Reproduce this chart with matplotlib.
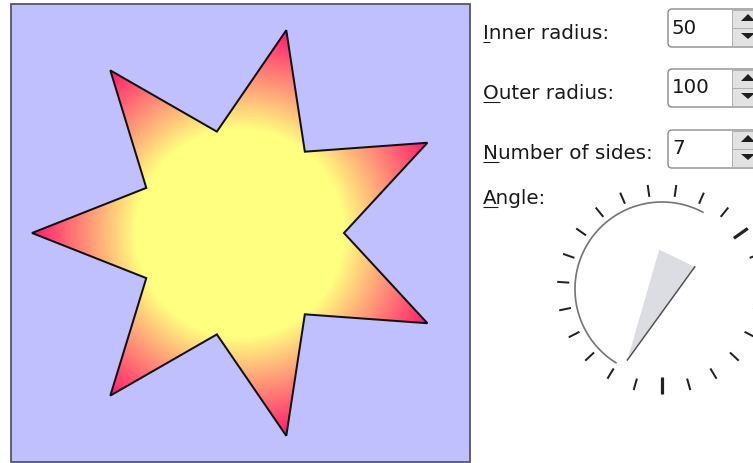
import numpy as np
import matplotlib
matplotlib.use("Agg")
import matplotlib.pyplot as plt
from matplotlib.patches import Polygon, Rectangle, FancyBboxPatch
from matplotlib.font_manager import FontProperties

# widget values
inner_radius = 50
outer_radius = 100
sides = 7
dial_angle = 244          # pointer direction, degrees
n_notches = 23
major_notches = [0, 15]

labels = ["Inner radius:", "Outer radius:", "Number of sides:", "Angle:"]
label_baselines = [39, 99, 159, 204]
spin_values = [str(inner_radius), str(outer_radius), str(sides)]
spin_baselines = [34, 93, 154]
spin_tops = [9, 69, 130]

W, H = 753, 463
PT = 0.72  # points per pixel at dpi 100

fig = plt.figure(figsize=(W / 100, H / 100), dpi=100)
fig.patch.set_facecolor("white")
ax = fig.add_axes([0, 0, 1, 1])
ax.axis("off")

# ---- star panel
px0, py0, px1, py1 = 11, 4, 470, 462
ax.add_patch(Rectangle((px0, py0), px1 - px0, py1 - py0, facecolor="#c0c0ff",
                       edgecolor="#55556a", lw=1.8 * PT, zorder=1))

cx, cy = 240, 233
scale = 2.08
k = np.arange(2 * sides)
ang = np.pi - k * np.pi / sides
rad = np.where(k % 2 == 0, outer_radius, inner_radius) * scale
sx = cx + rad * np.cos(ang)
sy = cy - rad * np.sin(ang)

gx, gy = np.meshgrid(np.arange(px0, px1) + 0.5, np.arange(py0, py1) + 0.5)
d = np.hypot(gx - cx, gy - cy) / (outer_radius * scale)
t = np.clip((d - 0.5) / 0.5, 0, 1)[..., None]
yellow = np.array([255, 255, 128]) / 255
red = np.array([255, 25, 110]) / 255
img = yellow * (1 - t) + red * t
im = ax.imshow(img, extent=(px0, px1, py1, py0), origin="upper",
               interpolation="bilinear", zorder=2)
star = Polygon(np.column_stack([sx, sy]), closed=True, facecolor="none",
               edgecolor="#111111", lw=2.0 * PT, joinstyle="miter", zorder=3)
ax.add_patch(star)
im.set_clip_path(star)
ax.set_xlim(0, W)
ax.set_ylim(H, 0)
ax.set_aspect("auto")

# ---- labels with mnemonic underline
fs = 14.3
prop = FontProperties(family="DejaVu Sans", size=fs)
fig.canvas.draw()
renderer = fig.canvas.get_renderer()
lx = 483
for lab, yb in zip(labels, label_baselines):
    ax.text(lx, yb, lab, fontproperties=prop, color="#1a1a1a", va="baseline",
            ha="left", zorder=5)
    w, _, _ = renderer.get_text_width_height_descent(lab[0], prop, ismath=False)
    ax.plot([lx, lx + w + 1], [yb + 2.5, yb + 2.5], color="#1a1a1a",
            lw=1.1 * PT, solid_capstyle="butt", zorder=5)

# ---- spin boxes
for val, yb, top in zip(spin_values, spin_baselines, spin_tops):
    h = 38
    ax.add_patch(FancyBboxPatch((668, top), 120, h, boxstyle="round,pad=0,rounding_size=4",
                                facecolor="white", edgecolor="#8c8c8c", lw=1.4 * PT, zorder=4))
    ax.add_patch(Rectangle((732, top + 1), 40, h - 2, facecolor="#e2e2e2",
                           edgecolor="#b0b0b0", lw=1.0 * PT, zorder=4))
    mid = top + h / 2
    ax.plot([732, 772], [mid, mid], color="#b0b0b0", lw=1.0 * PT, zorder=5)
    ax.add_patch(Polygon([[741, mid - 7], [755, mid - 7], [748, mid - 14]],
                         closed=True, facecolor="#1e1e1e", edgecolor="none", zorder=6))
    ax.add_patch(Polygon([[741, mid + 5], [755, mid + 5], [748, mid + 11]],
                         closed=True, facecolor="#1e1e1e", edgecolor="none", zorder=6))
    ax.text(672, yb, val, fontproperties=prop, color="#1a1a1a", va="baseline",
            ha="left", zorder=6)

# ---- dial
dcx, dcy = 662, 289
for i in range(n_notches):
    a = np.radians(270 - i * 360 / n_notches)
    major = i in major_notches
    r0 = 88 if major else 93
    ax.plot([dcx + r0 * np.cos(a), dcx + 105 * np.cos(a)],
            [dcy - r0 * np.sin(a), dcy - 105 * np.sin(a)],
            color="#222222", lw=(3.2 if major else 2.0) * PT,
            solid_capstyle="butt", zorder=4)

th = np.radians(np.linspace(62, 238, 120))
ax.plot(dcx + 87 * np.cos(th), dcy - 87 * np.sin(th), color="#767676",
        lw=1.7 * PT, zorder=4)

a = np.radians(dial_angle)
L = 79
b = L / 2
p0 = (dcx + L * np.cos(a), dcy - L * np.sin(a))
p1 = (dcx + b * np.cos(a + np.radians(150)), dcy - b * np.sin(a + np.radians(150)))
p2 = (dcx + b * np.cos(a - np.radians(150)), dcy - b * np.sin(a - np.radians(150)))
ax.add_patch(Polygon([p0, p1, p2], closed=True, facecolor="#dcdce3",
                     edgecolor="none", zorder=4))
ax.plot([p0[0], p1[0]], [p0[1], p1[1]], color="#505050", lw=1.5 * PT, zorder=5)

ax.set_xlim(0, W)
ax.set_ylim(H, 0)
fig.savefig("out.png", dpi=100)
